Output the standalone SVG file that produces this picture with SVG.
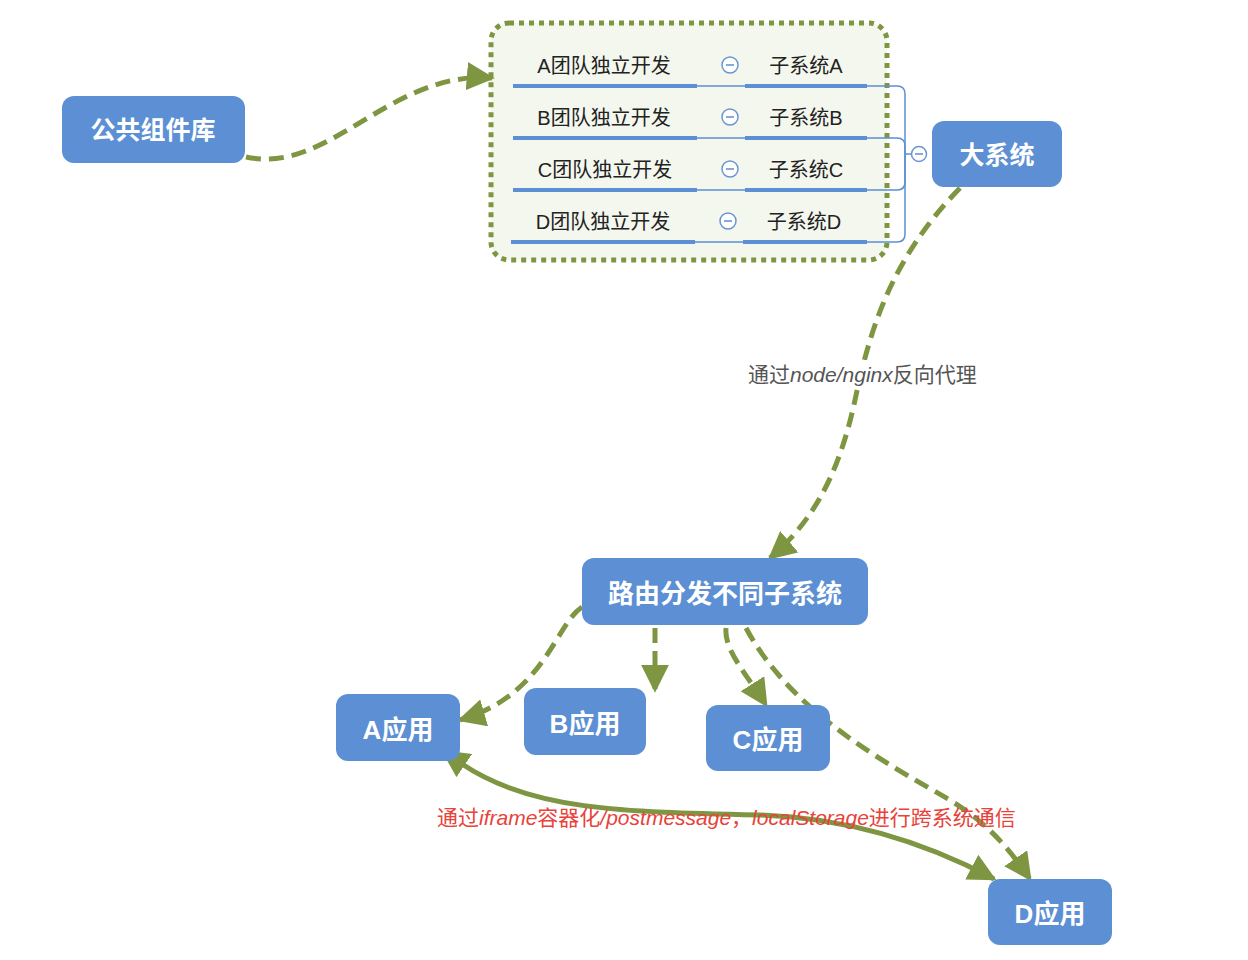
<svg xmlns="http://www.w3.org/2000/svg" width="1248" height="960" viewBox="0 0 1248 960">
<defs>
<style>
.node{fill:#5c8fd3;}
.nt{fill:#fff;font-family:"Liberation Sans","Noto Sans CJK SC",sans-serif;font-weight:bold;text-anchor:middle;}
.rt{fill:#222;font-family:"Liberation Sans","Noto Sans CJK SC",sans-serif;font-size:20px;text-anchor:middle;}
.bar{stroke:#5c8fd3;stroke-width:4;fill:none;}
.thin{stroke:#5c8fd3;stroke-width:1.5;fill:none;}
.dash{stroke:#7e9642;stroke-width:5;fill:none;stroke-dasharray:15 8;}
.solid{stroke:#7e9642;stroke-width:5;fill:none;}
.col{fill:#fff;stroke:#6a95d0;stroke-width:1.5;}
</style>
<marker id="ah" viewBox="0 0 10 10" refX="9" refY="5" markerWidth="5.6" markerHeight="5.6" orient="auto" markerUnits="strokeWidth">
<path d="M0,0 L10,5 L0,10 Z" fill="#7e9642"/>
</marker>
<marker id="ahs" viewBox="0 0 10 10" refX="1" refY="5" markerWidth="5.6" markerHeight="5.6" orient="auto-start-reverse" markerUnits="strokeWidth">
<path d="M0,0 L10,5 L0,10 Z" fill="#7e9642"/>
</marker>
</defs>
<rect width="1248" height="960" fill="#fff"/>

<g id="subsystems">
<rect x="491" y="23" width="396" height="237" rx="18" fill="#f4f7ee" stroke="#7e9642" stroke-width="5" stroke-dasharray="5 5"/>
<text class="rt" x="604" y="73">A团队独立开发</text>
<text class="rt" x="806" y="73">子系统A</text>
<line class="bar" x1="513" y1="86" x2="697" y2="86"/><line class="thin" x1="697" y1="86" x2="745" y2="86"/><line class="bar" x1="745" y1="86" x2="867" y2="86"/>
<text class="rt" x="604" y="125">B团队独立开发</text>
<text class="rt" x="806" y="125">子系统B</text>
<line class="bar" x1="513" y1="138" x2="697" y2="138"/><line class="thin" x1="697" y1="138" x2="745" y2="138"/><line class="bar" x1="745" y1="138" x2="867" y2="138"/>
<text class="rt" x="605" y="177">C团队独立开发</text>
<text class="rt" x="806" y="177">子系统C</text>
<line class="bar" x1="513" y1="190" x2="697" y2="190"/><line class="thin" x1="697" y1="190" x2="745" y2="190"/><line class="bar" x1="745" y1="190" x2="867" y2="190"/>
<text class="rt" x="603" y="229">D团队独立开发</text>
<text class="rt" x="804" y="229">子系统D</text>
<line class="bar" x1="511" y1="242" x2="695" y2="242"/><line class="thin" x1="695" y1="242" x2="743" y2="242"/><line class="bar" x1="743" y1="242" x2="867" y2="242"/>
<g id="collapse-icons">
<circle class="col" cx="730" cy="65" r="8"/><line class="thin" x1="726" y1="65" x2="734" y2="65"/>
<circle class="col" cx="730" cy="117" r="8"/><line class="thin" x1="726" y1="117" x2="734" y2="117"/>
<circle class="col" cx="730" cy="169" r="8"/><line class="thin" x1="726" y1="169" x2="734" y2="169"/>
<circle class="col" cx="728" cy="221" r="8"/><line class="thin" x1="724" y1="221" x2="732" y2="221"/>
</g>
<path class="thin" d="M867,86 H897 Q905,86 905,94 V234 Q905,242 897,242 H867"/>
<path class="thin" d="M867,138 H897 Q905,138 905,146 V182 Q905,190 897,190 H867"/>
<line class="thin" x1="905" y1="154" x2="912" y2="154"/>
<circle class="col" cx="919" cy="154" r="7.5"/><line class="thin" x1="915" y1="154" x2="923" y2="154"/>
</g>

<g id="connectors">
<path class="dash" d="M246,157 C330,175 390,70 492,78" marker-end="url(#ah)"/>
<path class="dash" d="M960,188 C890,260 870,330 855,400 C840,470 815,520 770,558" marker-end="url(#ah)"/>
<path class="dash" d="M582,607 C555,625 545,695 460,720" marker-end="url(#ah)"/>
<path class="dash" d="M655,628 V690" marker-end="url(#ah)"/>
<path class="dash" d="M726,628 C724,650 745,672 766,705" marker-end="url(#ah)"/>
<path class="dash" d="M746,628 C790,710 880,760 950,800 C990,825 1010,850 1030,879" marker-end="url(#ah)"/>
<path class="solid" d="M462,764 C530,810 620,812 760,815 C850,818 930,845 994,879" marker-start="url(#ahs)" marker-end="url(#ah)"/>
</g>

<g id="labels">
<rect x="746" y="360" width="232" height="28" fill="#fff"/>
<text x="748" y="382" font-family="Liberation Sans,Noto Sans CJK SC,sans-serif" font-size="21" fill="#555">通过<tspan font-style="italic">node/nginx</tspan>反向代理</text>
<text x="437" y="825" font-family="Liberation Sans,Noto Sans CJK SC,sans-serif" font-size="21" fill="#e8423a">通过<tspan font-style="italic">iframe</tspan>容器化<tspan font-style="italic">/postmessage</tspan>，<tspan font-style="italic">localStorage</tspan>进行跨系统通信</text>
</g>

<g id="n-lib"><rect class="node" x="62" y="96" width="183" height="67" rx="12"/><text class="nt" x="153" y="139" font-size="25">公共组件库</text></g>
<g id="n-big"><rect class="node" x="932" y="121" width="130" height="66" rx="12"/><text class="nt" x="997" y="164" font-size="25">大系统</text></g>
<g id="n-router"><rect class="node" x="582" y="558" width="286" height="67" rx="12"/><text class="nt" x="725" y="603" font-size="26">路由分发不同子系统</text></g>
<g id="n-a"><rect class="node" x="336" y="694" width="124" height="67" rx="12"/><text class="nt" x="398" y="739" font-size="26">A应用</text></g>
<g id="n-b"><rect class="node" x="524" y="688" width="122" height="67" rx="12"/><text class="nt" x="585" y="733" font-size="26">B应用</text></g>
<g id="n-c"><rect class="node" x="706" y="705" width="124" height="66" rx="12"/><text class="nt" x="768" y="749" font-size="26">C应用</text></g>
<g id="n-d"><rect class="node" x="988" y="879" width="124" height="66" rx="12"/><text class="nt" x="1050" y="923" font-size="26">D应用</text></g>
</svg>
